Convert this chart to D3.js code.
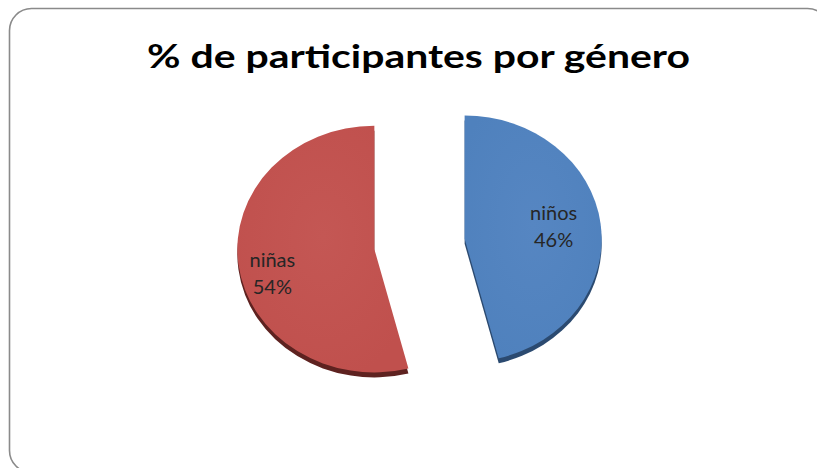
<!DOCTYPE html>
<html>
<head>
<meta charset="utf-8">
<script src="https://cdn.jsdelivr.net/npm/d3@7"></script>
<style>
  body { margin: 0; background: #fff; }
  svg { display: block; }
</style>
</head>
<body>
<svg id="chart"></svg>
<script>
const categories = ['niños', 'niñas']
const values = [46, 54]
const labels = ['46%', '54%']
const title = '% de participantes por género'

const WIDTH = 817
const HEIGHT = 468
const cx = 419.5, cy = 244
const R = 137
const TILT = 0.9
const EXPLODE = 45.5
const DEPTH = 5

const topColors = ['#4f81bd', '#c0504d']
const lightColors = ['#5686c2', '#c45754']
const sideColors = ['#2b4a70', '#5e2220']

const svg = d3.select('#chart')
    .attr('width', WIDTH)
    .attr('height', HEIGHT)

// frame
svg.append('rect')
    .attr('x', 9.5).attr('y', 8.5)
    .attr('width', 820).attr('height', 464)
    .attr('rx', 22).attr('ry', 22)
    .attr('fill', '#fff')
    .attr('stroke', '#8a8a8a')
    .attr('stroke-width', 1.6)

svg.append('text')
    .attr('x', 418.5).attr('y', 68)
    .attr('text-anchor', 'middle')
    .attr('font-family', 'Lato, sans-serif')
    .attr('font-weight', 'bold')
    .attr('font-size', 33)
    .attr('textLength', 543)
    .attr('lengthAdjust', 'spacingAndGlyphs')
    .attr('fill', '#000')
    .text(title)

const defs = svg.append('defs')
topColors.forEach((c, i) => {
    const g = defs.append('radialGradient')
        .attr('id', 'grad' + i)
        .attr('cx', '50%').attr('cy', '45%').attr('r', '60%')
    g.append('stop').attr('offset', '0%').attr('stop-color', lightColors[i])
    g.append('stop').attr('offset', '100%').attr('stop-color', c)
})

const pie = d3.pie().sort(null).value(d => d)
const arcs = pie(values)
const arc = d3.arc().innerRadius(0).outerRadius(R)

const root = svg.append('g').attr('transform', `translate(${cx},${cy})`)

const slices = root.selectAll('.slice')
    .data(arcs)
    .enter()
    .append('g')
    .classed('slice', true)
    .attr('transform', d => {
        const mid = (d.startAngle + d.endAngle) / 2
        return `translate(${EXPLODE * Math.sin(mid)},${-EXPLODE * Math.cos(mid) * TILT})`
    })

// side (depth)
slices.append('path')
    .attr('d', arc)
    .attr('transform', `translate(0,${DEPTH}) scale(1,${TILT})`)
    .attr('fill', (d, i) => sideColors[i])

// top face
slices.append('path')
    .attr('d', arc)
    .attr('transform', `scale(1,${TILT})`)
    .attr('fill', (d, i) => `url(#grad${i})`)

// labels
const labelOffsets = [[89, -15], [-102, 22]]
slices.each(function (d, i) {
    const t = d3.select(this).append('text')
        .attr('text-anchor', 'middle')
        .attr('font-family', 'Lato, sans-serif')
        .attr('font-size', 20)
        .attr('fill', '#262626')
    const [lx, ly] = labelOffsets[i]
    t.append('tspan').attr('x', lx).attr('y', ly - 4).text(categories[i])
    t.append('tspan').attr('x', lx).attr('y', ly + 23).text(labels[i])
})
</script>
</body>
</html>
